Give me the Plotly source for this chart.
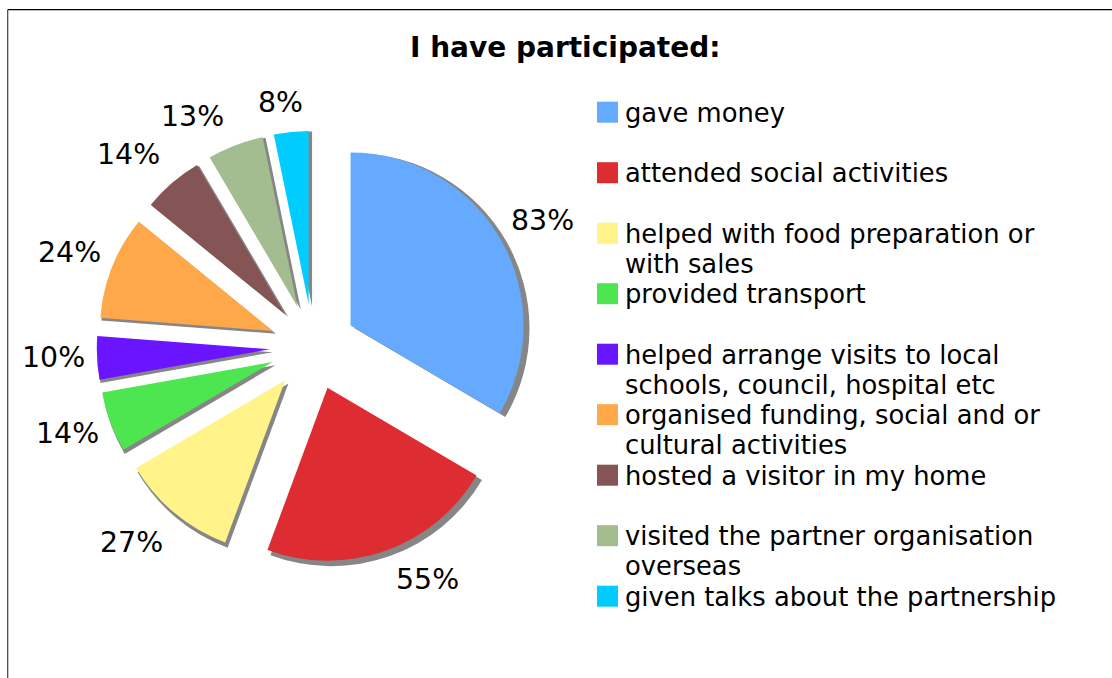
import math
import plotly.graph_objects as go

W, H = 1112, 678
FONT = "DejaVu Sans"

title = "I have participated:"
labels = [
    "gave money",
    "attended social activities",
    "helped with food preparation or<br>with sales",
    "provided transport",
    "helped arrange visits to local<br>schools, council, hospital etc",
    "organised funding, social and or<br>cultural activities",
    "hosted a visitor in my home",
    "visited the partner organisation<br>overseas",
    "given talks about the partnership",
]
values = [83, 55, 27, 14, 10, 24, 14, 13, 8]
colors = ["#66AAFF", "#DD2D32", "#FFF38A", "#4DE650", "#6A14FF",
          "#FFA84A", "#855454", "#A3BC90", "#00CCFF"]
SHADOW = "#868686"

# label placement tweaks (pixels), layout only
LABEL_RADIUS = 260
label_nudge = [(4, 3), (27, -12), (-15, -4), (-2, -4), (0, -3), (-2, 2), (-15, 5), (-27, 12), (-6, 14)]


def px(x):
    return x / W


def py(y):
    return 1 - y / H


def pie_domain(cx, cy, half):
    return dict(x=[px(cx - half), px(cx + half)], y=[py(cy + half), py(cy - half)])


CX, CY, R, PULL = 313, 347, 173, 0.25
common = dict(values=values, labels=[l.replace("<br>", " ") for l in labels], sort=False,
              direction="clockwise", rotation=0, pull=[PULL] * len(values),
              showlegend=False, hoverinfo="skip", textinfo="none")

fig = go.Figure()
fig.add_trace(go.Pie(domain=pie_domain(CX + 3.5, CY + 3, (R + 2) * (1 + PULL)),
                     marker=dict(colors=[SHADOW] * len(values), line=dict(width=0)), **common))
fig.add_trace(go.Pie(domain=pie_domain(CX, CY, R * (1 + PULL)),
                     marker=dict(colors=colors, line=dict(width=0)), **common))

shapes = [
    dict(type="line", xref="paper", yref="paper", x0=px(7.7), x1=px(7.7), y0=py(9.7), y1=py(678),
         line=dict(color="#404040", width=1.2)),
    dict(type="line", xref="paper", yref="paper", x0=px(7.7), x1=px(1112), y0=py(9.7), y1=py(9.7),
         line=dict(color="#000000", width=1.2)),
]
annotations = [dict(text=f"<b>{title}</b>", xref="paper", yref="paper", x=px(565), y=py(47),
                    xanchor="center", yanchor="middle", showarrow=False,
                    font=dict(family=FONT, size=28, color="#000000"))]

total = sum(values)
cum = 0
for v, (nx, ny) in zip(values, label_nudge):
    a = math.radians((cum + v / 2) / total * 360)
    cum += v
    annotations.append(dict(text=f"{v}%", xref="paper", yref="paper",
                            x=px(CX + LABEL_RADIUS * math.sin(a) + nx),
                            y=py(CY - LABEL_RADIUS * math.cos(a) + ny),
                            xanchor="center", yanchor="middle", showarrow=False,
                            font=dict(family=FONT, size=28.4, color="#000000")))

for i, (lab, col) in enumerate(zip(labels, colors)):
    top = 112.7 + i * 60.5
    shapes.append(dict(type="rect", xref="paper", yref="paper", x0=px(597), x1=px(618),
                       y0=py(top - 11), y1=py(top + 10), fillcolor=col, line=dict(width=0)))
    for j, line in enumerate(lab.split("<br>")):
        annotations.append(dict(text=line, xref="paper", yref="paper", x=px(623),
                                y=py(top + j * 30), xanchor="left", yanchor="middle",
                                showarrow=False, font=dict(family=FONT, size=25.8, color="#000000")))

fig.update_layout(width=W, height=H, margin=dict(l=0, r=0, t=0, b=0, autoexpand=False),
                  paper_bgcolor="white", plot_bgcolor="white",
                  shapes=shapes, annotations=annotations)
fig.write_html("out.html", config=dict(displayModeBar=False),
               post_script="document.body.style.margin='0';document.documentElement.style.overflow='hidden';")
